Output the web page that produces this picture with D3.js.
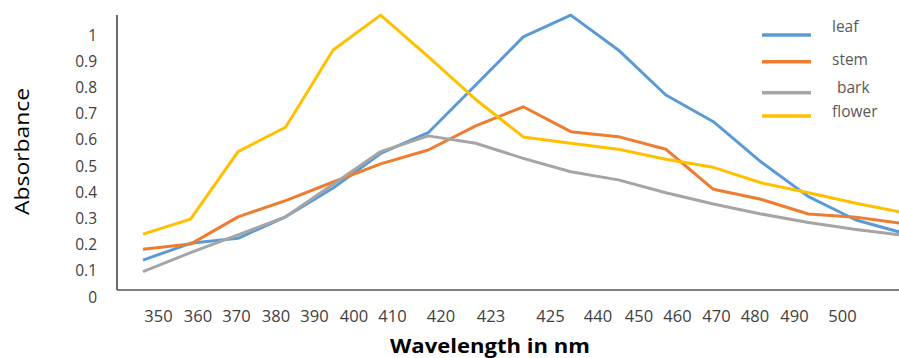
<!DOCTYPE html>
<html>
<head>
<meta charset="utf-8">
<script src="https://cdn.jsdelivr.net/npm/d3@7/dist/d3.min.js"></script>
<style>
  html, body { margin: 0; padding: 0; background: #fff; }
  svg { display: block; }
  text { font-family: "Open Sans", "DejaVu Sans", sans-serif; }
</style>
</head>
<body>
<svg id="chart" width="899" height="358"></svg>
<script>
// ---- data ----
const categories = ["350","360","370","380","390","400","410","420","423","425","440","450","460","470","480","490","500"];
const seriesNames = ["leaf", "stem", "bark", "flower"];
const leaf   = [0.141, 0.205, 0.224, 0.306, 0.416, 0.548, 0.627, 0.809, 0.993, 1.076, 0.943, 0.771, 0.669, 0.516, 0.383, 0.294, 0.244];
const stem   = [0.182, 0.202, 0.306, 0.368, 0.439, 0.508, 0.561, 0.653, 0.726, 0.631, 0.612, 0.564, 0.411, 0.373, 0.317, 0.304, 0.280];
const bark   = [0.097, 0.169, 0.237, 0.306, 0.430, 0.555, 0.615, 0.587, 0.529, 0.478, 0.447, 0.398, 0.355, 0.317, 0.284, 0.258, 0.235];
const flower = [0.240, 0.297, 0.555, 0.648, 0.943, 1.076, 0.917, 0.754, 0.611, 0.587, 0.564, 0.526, 0.495, 0.436, 0.398, 0.358, 0.322];
const yTicks = [0, 0.1, 0.2, 0.3, 0.4, 0.5, 0.6, 0.7, 0.8, 0.9, 1];
const yTickLabels = ["0", "0.1", "0.2", "0.3", "0.4", "0.5", "0.6", "0.7", "0.8", "0.9", "1"];
const xTitle = "Wavelength in nm";
const yTitle = "Absorbance";

// ---- layout / style ----
const colors = ["#5B9BD5", "#ED7D31", "#A5A5A5", "#FFC000"];
const seriesValues = [leaf, stem, bark, flower];
const plot = { left: 117, right: 899, top: 15, bottom: 290 };

const svg = d3.select("#chart");

const x = d3.scalePoint().domain(categories).range([143, 903.5]);
const y = d3.scaleLinear().domain([0, 1]).range([297, 35]);
// tick label positions (the reference places its category labels irregularly)
const xLabelPos = d3.scaleLinear()
  .domain(d3.range(categories.length))
  .range([158.5, 198, 236.5, 276, 314.5, 354, 392.5, 441, 491, 550.5, 598, 639, 677.5, 716.5, 755, 794.5, 842.5]);

// axes lines
svg.append("line")
  .attr("x1", plot.left).attr("x2", plot.left)
  .attr("y1", plot.top).attr("y2", plot.bottom)
  .attr("stroke", "#3a3a3a").attr("stroke-width", 1.5);
svg.append("line")
  .attr("x1", plot.left).attr("x2", plot.right)
  .attr("y1", plot.bottom).attr("y2", plot.bottom)
  .attr("stroke", "#555").attr("stroke-width", 1.5);

// y tick labels
svg.append("g").selectAll("text")
  .data(yTicks)
  .join("text")
  .attr("x", 97)
  .attr("y", d => y(d))
  .attr("dy", "0.36em")
  .attr("text-anchor", "end")
  .attr("font-size", 15.5)
  .attr("fill", "#404040")
  .text((d, i) => yTickLabels[i]);

// x tick labels
svg.append("g").selectAll("text")
  .data(categories)
  .join("text")
  .attr("x", (d, i) => xLabelPos(i))
  .attr("y", 321.5)
  .attr("text-anchor", "middle")
  .attr("font-size", 16.5)
  .attr("fill", "#404040")
  .text(d => d);

// lines
const line = d3.line()
  .x((d, i) => x(categories[i]))
  .y(d => y(d));

svg.append("g").selectAll("path")
  .data(seriesValues)
  .join("path")
  .attr("d", d => line(d))
  .attr("fill", "none")
  .attr("stroke", (d, i) => colors[i])
  .attr("stroke-width", 3)
  .attr("stroke-linejoin", "round")
  .attr("stroke-linecap", "butt");

// legend
const legendLineY = [35, 61.7, 92.7, 116];
const legendTextY = [26.7, 59.3, 87.3, 111.7];
const legendTextX = [832, 832, 837, 832];
const lg = svg.append("g");
lg.selectAll("line")
  .data(seriesNames)
  .join("line")
  .attr("x1", 762).attr("x2", 811)
  .attr("y1", (d, i) => legendLineY[i]).attr("y2", (d, i) => legendLineY[i])
  .attr("stroke", (d, i) => colors[i])
  .attr("stroke-width", 3.5);
lg.selectAll("text")
  .data(seriesNames)
  .join("text")
  .attr("x", (d, i) => legendTextX[i])
  .attr("y", (d, i) => legendTextY[i])
  .attr("dy", "0.36em")
  .attr("font-size", 15.5)
  .attr("fill", "#595959")
  .text(d => d);

// axis titles
svg.append("text")
  .attr("x", 490).attr("y", 352.5)
  .attr("text-anchor", "middle")
  .attr("font-size", 20)
  .attr("font-weight", "bold")
  .attr("fill", "#000")
  .attr("textLength", 200)
  .attr("lengthAdjust", "spacingAndGlyphs")
  .text(xTitle);

svg.append("text")
  .attr("transform", "translate(29,151.5) rotate(-90)")
  .attr("text-anchor", "middle")
  .attr("font-size", 20)
  .attr("fill", "#000")
  .attr("textLength", 127)
  .attr("lengthAdjust", "spacingAndGlyphs")
  .text(yTitle);
</script>
</body>
</html>
